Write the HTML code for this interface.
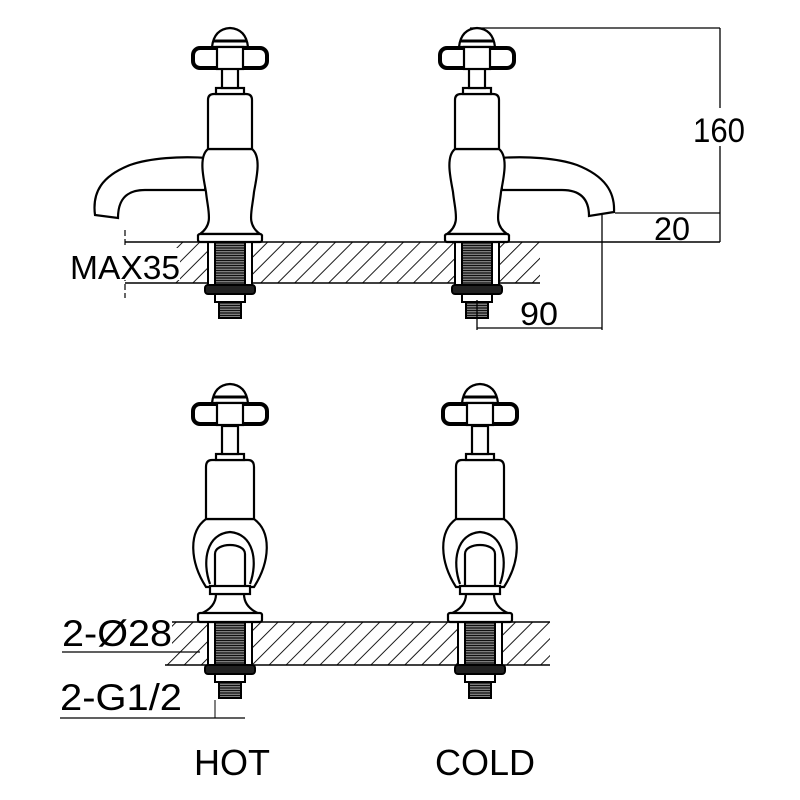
<!DOCTYPE html>
<html><head><meta charset="utf-8"><style>
html,body{margin:0;padding:0;background:#fff}
svg{display:block}
text{font-family:"Liberation Sans",sans-serif;fill:#000}
</style></head><body>
<svg width="800" height="800" viewBox="0 0 800 800" xmlns="http://www.w3.org/2000/svg">
<defs>
<pattern id="h" width="12" height="12" patternUnits="userSpaceOnUse" patternTransform="rotate(45)">
<line x1="0" y1="0" x2="0" y2="12" stroke="#000" stroke-width="1.8"/>
</pattern>
<pattern id="t" width="4" height="2.5" patternUnits="userSpaceOnUse">
<rect width="4" height="2.5" fill="#999"/><line x1="0" y1="1" x2="4" y2="1" stroke="#111" stroke-width="1.4"/>
</pattern>
<g id="handle" fill="#fff" stroke="#000" stroke-width="2.2">
<path d="M-18,1 Q-16,-17 0,-18 Q16,-17 18,1 Z"/>
<line x1="-16" y1="-5" x2="16" y2="-5" stroke-width="3"/>
<rect x="-37" y="2" width="74" height="20" rx="7" stroke-width="4"/>
<rect x="-13" y="1" width="26" height="22"/>
</g>
<g id="under" stroke="#000" stroke-width="2">
<rect x="-22" y="0" width="44" height="43" fill="#fff"/>
<rect x="-15" y="0" width="30" height="43" fill="url(#t)"/>
<rect x="-25" y="43" width="50" height="9" rx="3" fill="#222"/>
<rect x="-15" y="52" width="30" height="8" fill="#fff"/>
<rect x="-11" y="60" width="22" height="16" fill="url(#t)"/>
</g>
<g id="tapfront" fill="#fff" stroke="#000" stroke-width="2.2">
<path d="M-14,-28 C-14,-18 -20,-12 -30,-8 L30,-8 C20,-12 14,-18 14,-28 Z"/>
<rect x="-32" y="-9" width="64" height="9" rx="2"/>
<path d="M-24,-103 C-42,-90 -40,-60 -24,-35 L24,-35 C40,-60 42,-90 24,-103 Z"/>
<path d="M-20,-38 C-28,-60 -24,-88 0,-90 C24,-88 28,-60 20,-38" />
<path d="M-15,-36 L-15,-68 C-15,-80 15,-80 15,-68 L15,-36" />
<rect x="-20" y="-36" width="40" height="8"/>
<path d="M-24,-103 L-24,-155 Q-24,-162 -18,-162 L18,-162 Q24,-162 24,-155 L24,-103 Z"/>
<rect x="-14" y="-168" width="28" height="6"/>
<rect x="-8" y="-196" width="16" height="28"/>
</g>
</defs>

<rect x="170" y="242" width="370" height="41" fill="url(#h)"/>
<line x1="125" y1="242" x2="720" y2="242" stroke="#000" stroke-width="1.5"/>
<line x1="125" y1="283" x2="540" y2="283" stroke="#000" stroke-width="1.5"/>
<line x1="125" y1="230" x2="125" y2="298" stroke="#000" stroke-width="1.2" stroke-dasharray="6,3"/>
<rect x="62" y="248" width="118" height="32" fill="#fff"/>
<text x="70" y="279" font-size="33" textLength="110" lengthAdjust="spacingAndGlyphs">MAX35</text>

<g transform="translate(230,242)">
<use href="#under"/>
<g fill="#fff" stroke="#000" stroke-width="2.2">
<path d="M-22,-84 C-50,-86 -80,-84 -100,-77 C-128,-66 -138,-50 -135,-27 L-112,-24 C-112,-40 -106,-52 -85,-52 L-25,-52 Z"/>
<path d="M-22,-93 C-32,-85 -26,-62 -24,-50 C-22,-30 -16,-18 -30,-8 L30,-8 C16,-18 22,-30 24,-50 C26,-62 32,-85 22,-93 Z"/>
<rect x="-32" y="-8" width="64" height="8" rx="2"/>
<path d="M-22,-93 L-22,-142 Q-22,-148 -16,-148 L16,-148 Q22,-148 22,-142 L22,-93 Z"/>
<rect x="-14" y="-154" width="28" height="6"/>
<rect x="-8" y="-176" width="16" height="22"/>
</g>
<use href="#handle" transform="translate(0,-196)"/>
</g>

<g transform="translate(477,242)">
<use href="#under"/>
<g fill="#fff" stroke="#000" stroke-width="2.2">
<path d="M22,-84 C50,-86 80,-84 100,-77 C128,-66 138,-50 137,-30 L112,-26 C112,-40 106,-52 85,-52 L25,-52 Z"/>
<path d="M-22,-93 C-32,-85 -26,-62 -24,-50 C-22,-30 -16,-18 -30,-8 L30,-8 C16,-18 22,-30 24,-50 C26,-62 32,-85 22,-93 Z"/>
<rect x="-32" y="-8" width="64" height="8" rx="2"/>
<path d="M-22,-93 L-22,-142 Q-22,-148 -16,-148 L16,-148 Q22,-148 22,-142 L22,-93 Z"/>
<rect x="-14" y="-154" width="28" height="6"/>
<rect x="-8" y="-176" width="16" height="22"/>
</g>
<use href="#handle" transform="translate(0,-196)"/>
</g>

<g stroke="#000" stroke-width="1.3" fill="none">
<line x1="470" y1="28" x2="720" y2="28"/>
<line x1="720" y1="28" x2="720" y2="242"/>
<line x1="615" y1="213" x2="720" y2="213"/>
<line x1="602" y1="215" x2="602" y2="330"/>
<line x1="477" y1="300" x2="477" y2="330"/>
<line x1="477" y1="328" x2="602" y2="328"/>
</g>
<rect x="695" y="108" width="50" height="38" fill="#fff"/>
<text x="693" y="142" font-size="34" textLength="52" lengthAdjust="spacingAndGlyphs">160</text>
<text x="654" y="240" font-size="32" textLength="36" lengthAdjust="spacingAndGlyphs">20</text>
<text x="520" y="325" font-size="32" textLength="38" lengthAdjust="spacingAndGlyphs">90</text>

<rect x="165" y="622" width="385" height="43" fill="url(#h)"/>
<line x1="165" y1="622" x2="550" y2="622" stroke="#000" stroke-width="1.5"/>
<line x1="165" y1="665" x2="550" y2="665" stroke="#000" stroke-width="1.5"/>
<rect x="60" y="615" width="112" height="36" fill="#fff"/>
<text x="62" y="646" font-size="37" textLength="110" lengthAdjust="spacingAndGlyphs">2-Ø28</text>
<line x1="62" y1="652" x2="200" y2="652" stroke="#000" stroke-width="1.3"/>
<text x="60" y="710" font-size="37" textLength="122" lengthAdjust="spacingAndGlyphs">2-G1/2</text>
<line x1="60" y1="718" x2="245" y2="718" stroke="#000" stroke-width="1.3"/>
<line x1="215" y1="700" x2="215" y2="718" stroke="#000" stroke-width="1"/>

<g transform="translate(230,622)">
<use href="#under"/>
<use href="#tapfront"/>
<use href="#handle" transform="translate(0,-220)"/>
</g>
<g transform="translate(480,622)">
<use href="#under"/>
<use href="#tapfront"/>
<use href="#handle" transform="translate(0,-220)"/>
</g>

<text x="232" y="775" font-size="36" text-anchor="middle">HOT</text>
<text x="485" y="775" font-size="36" text-anchor="middle">COLD</text>
</svg>
</body></html>
